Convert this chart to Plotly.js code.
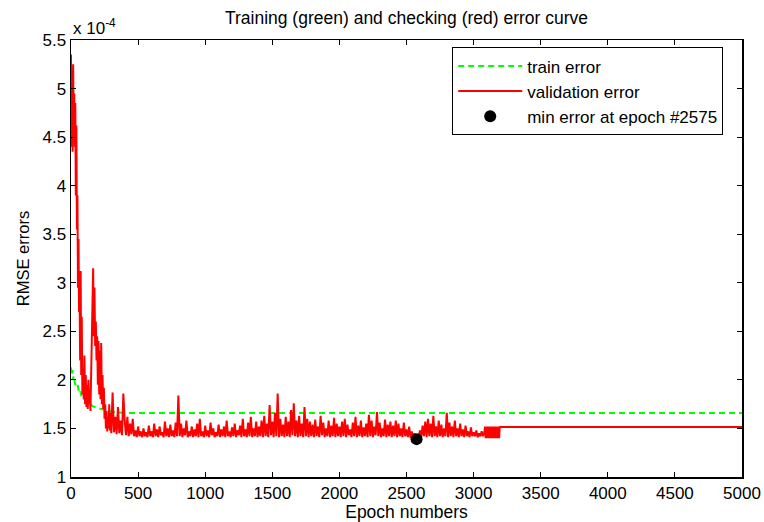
<!DOCTYPE html>
<html>
<head>
<meta charset="utf-8">
<script src="https://cdn.plot.ly/plotly-3.0.1.min.js"></script>
<style>html,body{margin:0;padding:0;background:#fff;}#chart{width:764px;height:522px;}</style>
</head>
<body>
<div id="chart"></div>
<script>
// Values in units of 1e-4
const trainEpochs = [0,5,10,15,20,25,30,40,50,60,70,80,90,100,120,140,160,200,250,300,350,400,5000];
const trainValues = [2.13,2.05,2.10,2.00,2.04,1.97,1.96,1.93,1.95,1.86,1.88,1.82,1.83,1.80,1.77,1.76,1.73,1.71,1.69,1.675,1.665,1.66,1.66];

const valEarlyEpochs = [0,4,8,12,16,20,24,28,32,36,40,44,48,52,56,60,64,68,72,76,80,85,90,95,100,105,110,115,120,125,130,135,140,145,150,155,160,165,170,175,180,185,190,195,200,205,210,215,220,225,230,235,240,245,250,255,260,265,270,275,280,285,290,295,300,310,320,330,340,350,360,370,380,390];
const valEarlyValues = [5.35,4.40,5.10,4.35,5.25,4.60,4.95,4.40,4.85,3.90,4.62,3.55,3.90,2.95,3.45,2.70,2.85,2.20,3.12,2.05,2.65,1.85,2.10,1.80,2.25,1.75,2.05,1.72,1.95,1.70,2.00,1.75,1.90,1.68,2.10,2.55,2.90,3.15,2.45,2.95,2.35,2.60,2.20,2.45,1.95,2.40,1.85,2.30,1.80,2.38,1.75,2.05,1.70,1.92,1.60,1.75,1.50,1.68,1.47,1.62,1.50,1.75,1.48,1.66,1.45,1.87,1.46,1.62,1.44,1.72,1.45,1.58,1.43,1.86];

// epochs 400 .. 3080, every 10 epochs
const valMainStart = 400, valMainStep = 10;
const valMainValues = [
1.58,1.43,1.62,1.42,1.55,1.44,1.60,1.42,1.48,1.41,1.52,1.42,1.47,1.41,1.50,1.42,1.46,1.41,1.53,1.42,
1.47,1.41,1.55,1.42,1.49,1.41,1.52,1.43,1.46,1.41,1.57,1.42,1.50,1.41,1.54,1.42,1.48,1.41,1.56,1.42,
1.84,1.42,1.55,1.41,1.50,1.43,1.58,1.41,1.47,1.42,1.52,1.41,1.49,1.42,1.55,1.41,1.60,1.42,1.47,1.41,
1.53,1.42,1.48,1.41,1.56,1.43,1.50,1.41,1.46,1.42,1.54,1.41,1.49,1.42,1.52,1.41,1.58,1.42,1.47,1.41,
1.51,1.42,1.55,1.41,1.48,1.43,1.53,1.41,1.60,1.42,1.49,1.41,1.56,1.42,1.62,1.41,1.50,1.42,1.57,1.41,
1.52,1.42,1.58,1.41,1.63,1.42,1.55,1.41,1.74,1.43,1.57,1.41,1.66,1.42,1.86,1.41,1.60,1.42,1.54,1.41,
1.62,1.42,1.57,1.41,1.69,1.43,1.76,1.42,1.58,1.41,1.63,1.42,1.55,1.41,1.72,1.42,1.60,1.41,1.57,1.42,
1.54,1.41,1.59,1.42,1.52,1.41,1.63,1.43,1.56,1.41,1.50,1.42,1.58,1.41,1.53,1.42,1.61,1.41,1.55,1.42,
1.52,1.41,1.57,1.42,1.60,1.41,1.54,1.43,1.49,1.41,1.56,1.42,1.62,1.41,1.53,1.42,1.58,1.41,1.51,1.42,
1.55,1.41,1.64,1.42,1.58,1.41,1.52,1.43,1.67,1.42,1.56,1.41,1.50,1.42,1.59,1.41,1.54,1.42,1.57,1.41,
1.53,1.42,1.58,1.41,1.55,1.42,1.50,1.41,1.56,1.42,1.49,1.41,1.52,1.40,1.47,1.40,1.45,1.39,1.44,1.40,
1.48,1.41,1.53,1.42,1.57,1.41,1.60,1.42,1.55,1.41,1.63,1.42,1.52,1.41,1.58,1.42,1.54,1.41,1.50,1.42,
1.66,1.41,1.56,1.42,1.52,1.41,1.58,1.42,1.50,1.41,1.55,1.42,1.49,1.41,1.53,1.42,1.47,1.41,1.51,1.42,
1.46,1.42,1.48,1.41,1.45,1.42,1.47,1.42,1.46
];

// oscillating block 3085..3200 (every 5 epochs), then flat
const valBlockStart = 3085, valBlockStep = 5;
const valBlockValues = [1.52,1.40,1.52,1.40,1.52,1.40,1.52,1.40,1.52,1.40,1.52,1.40,1.52,1.40,1.52,1.40,1.52,1.40,1.52,1.40,1.52,1.40,1.52,1.515];
const valTailEpochs = [3205,5000];
const valTailValues = [1.515,1.515];

const minEpoch = [2575];
const minValue = [1.39];

const xTicks = [0,500,1000,1500,2000,2500,3000,3500,4000,4500,5000];
const yTicks = [1,1.5,2,2.5,3,3.5,4,4.5,5,5.5];

const valX = [], valY = [];
valEarlyEpochs.forEach((e,i)=>{valX.push(e); valY.push(valEarlyValues[i]);});
valMainValues.forEach((v,i)=>{valX.push(valMainStart + i*valMainStep); valY.push(v);});
valBlockValues.forEach((v,i)=>{valX.push(valBlockStart + i*valBlockStep); valY.push(v);});
valTailEpochs.forEach((e,i)=>{valX.push(e); valY.push(valTailValues[i]);});

const FONT = 'Liberation Sans, Arial, sans-serif';

const traces = [
  {x: trainEpochs, y: trainValues, mode:'lines', name:'train error',
   line:{color:'#00ff00', width:2, dash:'6px,4px'}},
  {x: valX, y: valY, mode:'lines', name:'validation error',
   line:{color:'#ff0000', width:2}},
  {x: minEpoch, y: minValue, mode:'markers', name:'min error at epoch #2575',
   marker:{color:'#000000', size:12}}
];

const axisCommon = {
  showline:true, linecolor:'#000', linewidth:1.5, mirror:'ticks',
  ticks:'inside', ticklen:5, tickcolor:'#000', tickwidth:1,
  showgrid:false, zeroline:false,
  tickfont:{family:FONT, size:17, color:'#000'}
};

const layout = {
  width:764, height:522,
  margin:{l:71, r:22, t:40, b:45},
  paper_bgcolor:'#fff', plot_bgcolor:'#fff',
  showlegend:true,
  title:{text:'Training (green) and checking (red) error curve',
         font:{family:FONT, size:17.5, color:'#000'}, x:0.5, xref:'paper', y:0.965, yanchor:'middle'},
  xaxis:Object.assign({}, axisCommon, {range:[0,5000], tickvals:xTicks,
         title:{text:'Epoch numbers', font:{family:FONT, size:17.5, color:'#000'}, standoff:7}}),
  yaxis:Object.assign({}, axisCommon, {range:[1,5.5], tickvals:yTicks,
         title:{text:'RMSE errors', font:{family:FONT, size:16.5, color:'#000'}, standoff:8}}),
  legend:{x:0.972, xanchor:'right', y:0.983, yanchor:'top',
          bordercolor:'#000', borderwidth:1, bgcolor:'#fff',
          font:{family:FONT, size:17, color:'#000'}, itemwidth:64},
  annotations:[{text:'x 10<sup>-4</sup>', xref:'paper', yref:'paper', x:0, y:1,
                xanchor:'left', yanchor:'bottom', showarrow:false,
                font:{family:FONT, size:17, color:'#000'}}]
};

Plotly.newPlot('chart', traces, layout, {displayModeBar:false, staticPlot:true});
</script>
</body>
</html>
